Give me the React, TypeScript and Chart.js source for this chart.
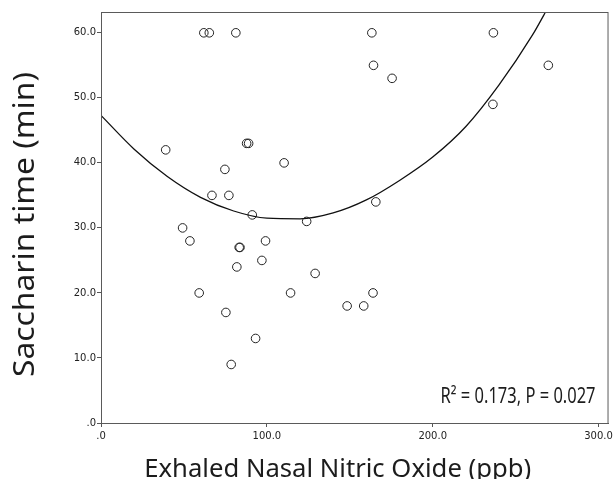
import React, { useEffect, useRef } from "react";
import { Chart, registerables } from "chart.js";

Chart.register(...registerables);

// Exhaled nasal NO (ppb) vs saccharin time (min)
const ENO_PPB = [
  62, 65.3, 81.3, 39, 87.8, 89, 110.4, 74.7, 66.9, 77.1, 91.2, 49.2, 124, 53.6,
  99.2, 83.3, 83.8, 81.9, 97, 59.2, 114.3, 75.3, 93.2, 78.5, 163.3, 236.6, 164.3,
  269.7, 175.5, 236.3, 165.7, 129.1, 148.4, 158.4, 164,
];
const SACCHARIN_MIN = [
  60, 60, 60, 42, 43, 43, 40, 39, 35, 35, 32, 30, 31, 28,
  28, 27, 27, 24, 25, 20, 20, 17, 13, 9, 60, 60, 55,
  55, 53, 49, 34, 23, 18, 18, 20,
];

// Quadratic fit curve
const FIT_X = [0, 20, 40, 60, 80, 100, 120, 140, 160, 180, 200, 220, 240, 260, 268, 272];
const FIT_Y = [47.3, 42.1, 37.9, 34.7, 32.6, 31.5, 31.4, 32.3, 34.3, 37.3, 40.9, 45.6, 52.0, 59.6, 63.2, 65.1];

const X_TICKS = [0, 100, 200, 300];
const X_TICK_LABELS = [".0", "100.0", "200.0", "300.0"];
const Y_TICKS = [0, 10, 20, 30, 40, 50, 60];
const Y_TICK_LABELS = [".0", "10.0", "20.0", "30.0", "40.0", "50.0", "60.0"];

const X_TITLE = "Exhaled Nasal Nitric Oxide (ppb)";
const Y_TITLE = "Saccharin time (min)";
const STAT_TEXT = "R\u00B2 = 0.173, P = 0.027";

const TITLE_FONT = '"Noto Sans", "DejaVu Sans", sans-serif';

function drawFitted(
  ctx: CanvasRenderingContext2D,
  text: string,
  x: number,
  y: number,
  size: number,
  targetWidth: number,
  align: CanvasTextAlign,
  rotate: number
) {
  ctx.save();
  ctx.font = `${size}px ${TITLE_FONT}`;
  const w = ctx.measureText(text).width;
  const sx = targetWidth / w;
  ctx.translate(x, y);
  if (rotate) ctx.rotate(rotate);
  ctx.scale(sx, 1);
  ctx.textAlign = align;
  ctx.textBaseline = "alphabetic";
  ctx.fillStyle = "#1c1c1c";
  ctx.fillText(text, 0, 0);
  ctx.restore();
}

const framePlugin = {
  id: "frameAndText",
  afterDraw(chart: any) {
    const { ctx, chartArea } = chart;
    const { left, right, top, bottom } = chartArea;
    ctx.save();
    ctx.strokeStyle = "#5a5a5a";
    ctx.lineWidth = 1;
    ctx.strokeRect(left + 0.5, top + 0.5, right - left - 1, bottom - top);
    ctx.restore();

    // R² annotation
    drawFitted(ctx, STAT_TEXT, right - 13, bottom - 20, 21, 155, "right", 0);
    // x title
    drawFitted(ctx, X_TITLE, (left + right) / 2 - 17, bottom + 54, 25, 387, "center", 0);
    // y title
    drawFitted(ctx, Y_TITLE, left - 67, (top + bottom) / 2 + 7, 29, 305, "center", -Math.PI / 2);
  },
};

export default function App() {
  const ref = useRef<HTMLCanvasElement | null>(null);

  useEffect(() => {
    if (!ref.current) return;
    const chart = new Chart(ref.current, {
      type: "scatter",
      data: {
        datasets: [
          {
            data: FIT_X.map((x, i) => ({ x, y: FIT_Y[i] })),
            showLine: true,
            pointRadius: 0,
            borderColor: "#111",
            borderWidth: 1.3,
            cubicInterpolationMode: "monotone",
            fill: false,
          } as any,
          {
            data: ENO_PPB.map((x, i) => ({ x, y: SACCHARIN_MIN[i] })),
            pointRadius: 4.3,
            pointBorderWidth: 1,
            pointBorderColor: "#222",
            pointBackgroundColor: "rgba(255,255,255,0)",
            showLine: false,
          } as any,
        ],
      },
      options: {
        responsive: false,
        animation: false,
        devicePixelRatio: 1,
        layout: { padding: { top: 12, right: 6, left: 0, bottom: 0 } },
        plugins: {
          legend: { display: false },
          tooltip: { enabled: false },
        },
        scales: {
          x: {
            type: "linear",
            min: 0,
            max: 306,
            afterBuildTicks: (axis: any) => {
              axis.ticks = X_TICKS.map((v) => ({ value: v }));
            },
            afterFit: (scale: any) => {
              scale.height = 56;
            },
            grid: {
              display: true,
              drawOnChartArea: false,
              drawTicks: true,
              tickLength: 4,
              color: "#555",
            },
            border: { display: true, color: "#5a5a5a" },
            ticks: {
              padding: 3,
              maxRotation: 0,
              autoSkip: false,
              color: "#222",
              font: { family: '"DejaVu Sans", sans-serif', size: 10 },
              callback: (v: any) => {
                const i = X_TICKS.indexOf(Number(v));
                return i >= 0 ? X_TICK_LABELS[i] : "";
              },
            },
          },
          y: {
            type: "linear",
            min: 0,
            max: 63.2,
            afterBuildTicks: (axis: any) => {
              axis.ticks = Y_TICKS.map((v) => ({ value: v }));
            },
            afterFit: (scale: any) => {
              scale.width = 101;
            },
            grid: {
              display: true,
              drawOnChartArea: false,
              drawTicks: true,
              tickLength: 4,
              color: "#555",
            },
            border: { display: true, color: "#5a5a5a" },
            ticks: {
              padding: 1,
              autoSkip: false,
              color: "#222",
              font: { family: '"DejaVu Sans", sans-serif', size: 10 },
              callback: (v: any) => {
                const i = Y_TICKS.indexOf(Number(v));
                return i >= 0 ? Y_TICK_LABELS[i] : "";
              },
            },
          },
        },
      } as any,
      plugins: [framePlugin],
    });
    return () => chart.destroy();
  }, []);

  return (
    <div style={{ position: "absolute", left: 0, top: 0, width: 616, height: 479, background: "#fff" }}>
      <canvas ref={ref} width={616} height={479} style={{ display: "block" }} />
    </div>
  );
}
